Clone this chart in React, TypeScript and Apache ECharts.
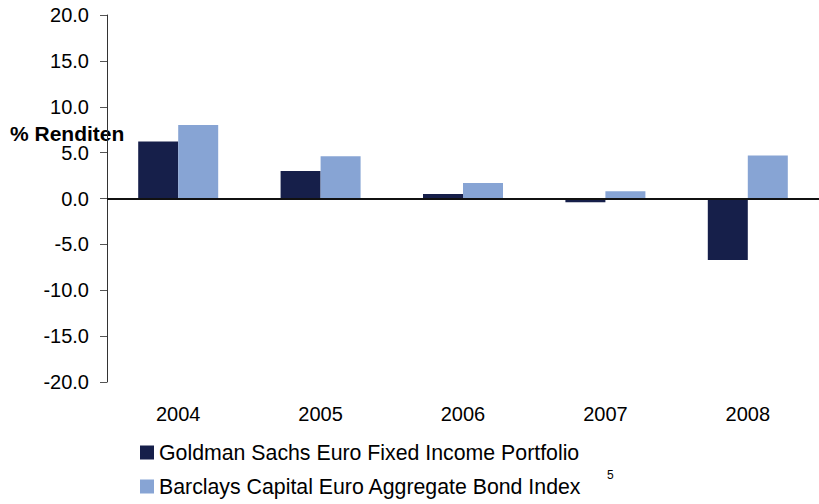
import React, { useEffect, useRef } from "react";
import * as echarts from "echarts";

const categories = ["2004", "2005", "2006", "2007", "2008"];
const goldmanValues = [6.2, 3.0, 0.5, -0.4, -6.7];
const barclaysValues = [8.0, 4.6, 1.7, 0.8, 4.7];
const seriesNames = [
  "Goldman Sachs Euro Fixed Income Portfolio",
  "Barclays Capital Euro Aggregate Bond Index",
];
const yTicks = { min: -20, max: 20, interval: 5 };
const axisTitle = "% Renditen";
const footnote = "5";

const FONT = "'Liberation Sans', Arial, sans-serif";

export default function App() {
  const ref = useRef<HTMLDivElement>(null);
  useEffect(() => {
    if (!ref.current) return;
    const chart = echarts.init(ref.current, null, { renderer: "svg" });
    const legendBase = {
      orient: "horizontal",
      left: 140,
      padding: 0,
      icon: "rect",
      itemWidth: 14,
      itemHeight: 14,
      itemGap: 0,
      textStyle: { fontSize: 21.3, color: "#000", fontFamily: FONT },
    };
    chart.setOption({
      animation: false,
      textStyle: { fontFamily: FONT, color: "#000" },
      grid: { left: 107, top: 15, width: 718, height: 367 },
      xAxis: {
        type: "category",
        data: categories,
        axisLine: { show: false, onZero: false },
        axisTick: { show: false },
        axisLabel: { margin: 22, fontSize: 20, color: "#000", fontFamily: FONT },
        splitLine: { show: false },
      },
      yAxis: {
        type: "value",
        min: yTicks.min,
        max: yTicks.max,
        interval: yTicks.interval,
        axisLine: { show: true, lineStyle: { color: "#333", width: 1 } },
        axisTick: { show: true, length: 7, lineStyle: { color: "#555" } },
        axisLabel: {
          margin: 18,
          fontSize: 20,
          color: "#000",
          fontFamily: FONT,
          formatter: (v: number) => v.toFixed(1),
        },
        splitLine: { show: false },
      },
      legend: [
        { ...legendBase, top: 442, data: [seriesNames[0]] },
        { ...legendBase, top: 476, data: [seriesNames[1]] },
      ],
      series: [
        {
          name: seriesNames[0],
          type: "bar",
          data: goldmanValues,
          barWidth: 40,
          barGap: "0%",
          itemStyle: { color: "#161f4a" },
          markLine: {
            silent: true,
            symbol: "none",
            label: { show: false },
            lineStyle: { color: "#111", width: 2, type: "solid" },
            data: [{ yAxis: 0 }],
          },
        },
        {
          name: seriesNames[1],
          type: "bar",
          data: barclaysValues,
          barWidth: 40,
          barGap: "0%",
          itemStyle: { color: "#87a4d4" },
        },
      ],
      graphic: [
        {
          type: "text",
          left: 10,
          top: 123,
          style: {
            text: axisTitle,
            font: `bold 21px ${FONT}`,
            fill: "#000",
          },
        },
        {
          type: "text",
          left: 607,
          top: 469,
          style: {
            text: footnote,
            font: `12px ${FONT}`,
            fill: "#000",
          },
        },
      ],
    });
    return () => chart.dispose();
  }, []);
  return (
    <div
      ref={ref}
      style={{ position: "absolute", left: 0, top: 0, width: 819, height: 504 }}
    />
  );
}
